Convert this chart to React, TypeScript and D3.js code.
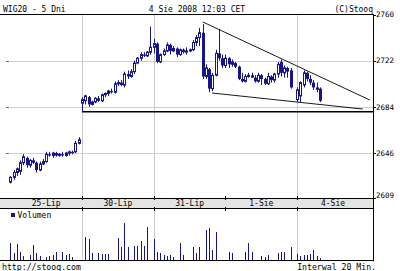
import React from "react";
import * as d3 from "d3";

type C = [number, number, number, number]; // open, high, low, close

const dayLabels = ["25-Lip", "30-Lip", "31-Lip", "1-Sie", "4-Sie"];
const gridDayIdx = [1, 2, 4];
const priceTicks = [2760, 2722, 2684, 2646, 2609];
const slotsPerDay = 22;

const day25: C[] = [
  [2622, 2627, 2621, 2626], [2626, 2632, 2624, 2630], [2630, 2634, 2627, 2633], [2631, 2640, 2628, 2638],
  [2638, 2645, 2636, 2643], [2642, 2643, 2634, 2636], [2636, 2641, 2634, 2640], [2640, 2642, 2637, 2638],
  [2638, 2639, 2630, 2632], [2632, 2639, 2631, 2637], [2637, 2641, 2636, 2639], [2639, 2647, 2638, 2645],
  [2645, 2647, 2643, 2644], [2644, 2647, 2642, 2646], [2646, 2647, 2643, 2644], [2644, 2646, 2643, 2645],
  [2645, 2647, 2643, 2644], [2644, 2647, 2643, 2646], [2646, 2648, 2644, 2647], [2647, 2648, 2645, 2646],
  [2647, 2656, 2646, 2654], [2654, 2659, 2653, 2657],
];
const day30: C[] = [
  [2687, 2692, 2680, 2690], [2689, 2694, 2686, 2693], [2692, 2693, 2684, 2686], [2686, 2689, 2685, 2688],
  [2688, 2692, 2687, 2691], [2691, 2693, 2688, 2689], [2689, 2695, 2688, 2694], [2694, 2696, 2692, 2695],
  [2695, 2698, 2693, 2697], [2697, 2699, 2695, 2696], [2696, 2705, 2695, 2703], [2703, 2706, 2701, 2704],
  [2704, 2706, 2701, 2702], [2702, 2713, 2700, 2711], [2711, 2714, 2707, 2709], [2709, 2715, 2708, 2713],
  [2713, 2722, 2711, 2720], [2720, 2725, 2719, 2724], [2724, 2729, 2722, 2727], [2727, 2729, 2725, 2726],
  [2726, 2730, 2725, 2729], [2729, 2750, 2727, 2733],
];
const day31: C[] = [
  [2733, 2740, 2728, 2736], [2736, 2737, 2720, 2721], [2721, 2728, 2720, 2727], [2727, 2732, 2726, 2730],
  [2730, 2737, 2729, 2735], [2735, 2736, 2727, 2730], [2730, 2734, 2729, 2732], [2732, 2733, 2725, 2727],
  [2727, 2732, 2726, 2731], [2731, 2732, 2728, 2729], [2729, 2733, 2727, 2730], [2730, 2732, 2729, 2731],
  [2731, 2739, 2730, 2737], [2737, 2743, 2734, 2741], [2741, 2749, 2734, 2745], [2745, 2752, 2707, 2709],
  [2709, 2719, 2707, 2716], [2715, 2716, 2696, 2699], [2699, 2712, 2697, 2710], [2710, 2731, 2709, 2728],
  [2728, 2748, 2722, 2724], [2724, 2727, 2716, 2718],
];
const day01: C[] = [
  [2718, 2727, 2716, 2724], [2724, 2725, 2716, 2719], [2719, 2723, 2717, 2721], [2720, 2721, 2716, 2717],
  [2717, 2718, 2706, 2707], [2707, 2712, 2704, 2705], [2705, 2711, 2704, 2709], [2709, 2712, 2708, 2710],
  [2710, 2712, 2708, 2708], [2708, 2710, 2704, 2705], [2705, 2712, 2704, 2710], [2710, 2711, 2702, 2707],
  [2707, 2708, 2702, 2703], [2703, 2712, 2702, 2709], [2709, 2710, 2704, 2706], [2706, 2712, 2704, 2711],
  [2711, 2721, 2708, 2719], [2721, 2723, 2709, 2712], [2712, 2718, 2708, 2716], [2716, 2717, 2708, 2713],
  [2714, 2716, 2699, 2700],
];
const day04: C[] = [
  [2690, 2700, 2688, 2698], [2693, 2705, 2688, 2704], [2702, 2714, 2700, 2712], [2712, 2713, 2705, 2707],
  [2707, 2710, 2702, 2704], [2704, 2706, 2698, 2700], [2700, 2704, 2696, 2698], [2699, 2700, 2688, 2689],
];

const vol25 = [17, 7, 16, 8, 4, 0, 5, 15, 7, 4, 0, 3, 4, 5, 8, 0, 8, 5, 6, 3, 0, 0];
const vol30 = [0, 23, 21, 7, 0, 7, 6, 6, 6, 0, 0, 22, 13, 37, 13, 0, 14, 14, 19, 14, 33, 0];
const vol31 = [21, 8, 7, 5, 4, 5, 3, 0, 17, 5, 0, 0, 13, 7, 13, 0, 30, 32, 10, 28, 0, 0];
const vol01 = [0, 8, 7, 0, 0, 0, 8, 17, 8, 0, 0, 4, 3, 5, 0, 0, 7, 8, 8, 0, 13];
const vol04 = [6, 4, 5, 5, 6, 10, 4, 2];

const candleDays = [day25, day30, day31, day01, day04];
const volumeDays = [vol25, vol30, vol31, vol01, vol04];

// annotation lines in data space (slot position, price)
const trendUpper = [{ pos: 59.1, value: 2753.8 }, { pos: 110.3, value: 2689.6 }];
const trendLower = [{ pos: 61.9, value: 2695.4 }, { pos: 108.1, value: 2682.2 }];
const supportLevel = 2680;
const supportFromPos = 22;

const NAVY = "#16168a";
const FONT = "DejaVu Sans Mono";

export default function App() {
  const W = 400, H = 271;
  const frameRight = 373;
  const x = d3.scaleLinear().domain([0, 5 * slotsPerDay]).range([10.3, 368.9]);
  const y = d3.scaleLinear().domain([2609, 2760]).range([198, 14.5]);
  const v = d3.scaleLinear().domain([0, 40]).range([260, 220]);

  const line = d3
    .line<{ pos: number; value: number }>()
    .x((d) => x(d.pos))
    .y((d) => y(d.value));

  const candles: JSX.Element[] = [];
  candleDays.forEach((day, d) => {
    day.forEach(([o, h, l, c], i) => {
      const px = Math.round(x(d * slotsPerDay + i));
      const top = y(Math.max(o, c));
      const bot = y(Math.min(o, c));
      const bodyH = Math.max(1, bot - top);
      const up = c >= o;
      candles.push(
        <g key={`c${d}-${i}`}>
          <line x1={px + 0.5} x2={px + 0.5} y1={y(h)} y2={y(l)} stroke={NAVY} strokeWidth={1} />
          {up ? (
            <rect x={px - 0.5} y={top} width={2} height={bodyH} fill="#fff" stroke={NAVY} strokeWidth={1} />
          ) : (
            <rect x={px - 1} y={top} width={3} height={bodyH} fill={NAVY} />
          )}
        </g>
      );
    });
  });

  const vols: JSX.Element[] = [];
  volumeDays.forEach((day, d) => {
    day.forEach((val, i) => {
      if (!val) return;
      const px = Math.round(x(d * slotsPerDay + i));
      vols.push(<rect key={`v${d}-${i}`} x={px} y={v(val)} width={1} height={v(0) - v(val)} fill={NAVY} />);
    });
  });

  const gridX = gridDayIdx.map((d) => Math.round(x(d * slotsPerDay)) + 0.5);
  const boundX = d3.range(1, dayLabels.length).map((d) => Math.round(x(d * slotsPerDay)) + 0.5);

  return (
    <svg
      width={W}
      height={H}
      style={{ position: "absolute", left: 0, top: 0, background: "#fff" }}
      fontFamily={FONT}
    >
      <rect x={0} y={0} width={W} height={H} fill="#fff" />
      {/* header */}
      <text x={3} y={12} fontSize={8} fill="#000">WIG20 - 5 Dni</text>
      <text x={197} y={12} fontSize={8} fill="#000" textAnchor="middle">4 Sie 2008 12:03 CET</text>
      <text x={frameRight} y={12} fontSize={8} fill="#000" textAnchor="end">(C)Stooq</text>

      {/* horizontal grid */}
      {priceTicks.slice(1, 4).map((t) => (
        <g key={`hg${t}`}>
          <line x1={10} x2={frameRight} y1={Math.round(y(t)) + 0.5} y2={Math.round(y(t)) + 0.5} stroke="#cfcfcf" />
          <line x1={6} x2={9} y1={Math.round(y(t)) + 0.5} y2={Math.round(y(t)) + 0.5} stroke="#666" />
        </g>
      ))}
      {/* vertical grid (price + volume) */}
      {gridX.map((gx) => (
        <g key={`vg${gx}`}>
          <line x1={gx} x2={gx} y1={14} y2={198} stroke="#c8c8c8" />
          <line x1={gx} x2={gx} y1={208} y2={260} stroke="#c8c8c8" />
        </g>
      ))}

      {/* support & trend lines */}
      <line
        x1={x(supportFromPos)}
        x2={frameRight}
        y1={y(supportLevel)}
        y2={y(supportLevel)}
        stroke="#000"
        strokeWidth={1.5}
      />
      <path d={line(trendUpper) || ""} fill="none" stroke="#000" strokeWidth={0.9} />
      <path d={line(trendLower) || ""} fill="none" stroke="#000" strokeWidth={0.9} />

      {candles}

      {/* frame */}
      <line x1={0} x2={frameRight + 0.5} y1={14.5} y2={14.5} stroke="#000" />
      <line x1={frameRight + 0.5} x2={frameRight + 0.5} y1={14} y2={261.5} stroke="#000" />

      {/* right axis labels */}
      {priceTicks.map((t) => (
        <g key={`yl${t}`}>
          <line x1={frameRight} x2={frameRight + 3} y1={Math.round(y(t)) + 0.5} y2={Math.round(y(t)) + 0.5} stroke="#000" />
          <text x={376} y={Math.min(y(t), 195) + 2.8} fontSize={7.5} fill="#000">
            {t}
          </text>
        </g>
      ))}

      {/* x axis band */}
      <rect x={0} y={198} width={frameRight} height={10} fill="#e4e4e4" />
      <line x1={0} x2={frameRight} y1={198.5} y2={198.5} stroke="#000" />
      <line x1={0} x2={frameRight} y1={208.5} y2={208.5} stroke="#000" />
      {boundX.map((bx) => (
        <g key={`bt${bx}`}>
          <line x1={bx} x2={bx} y1={196} y2={200} stroke="#000" />
          <line x1={bx} x2={bx} y1={207} y2={211} stroke="#000" />
        </g>
      ))}
      {dayLabels.map((lab, d) => (
        <text
          key={lab}
          x={x(d * slotsPerDay + slotsPerDay / 2)}
          y={206}
          fontSize={8}
          fill="#000"
          textAnchor="middle"
        >
          {lab}
        </text>
      ))}

      {/* volume panel */}
      <rect x={11} y={213} width={4} height={4} fill={NAVY} />
      <text x={17.5} y={217.5} fontSize={8} fill="#000">Volumen</text>
      {vols}
      <line x1={0} x2={frameRight + 0.5} y1={260.5} y2={260.5} stroke="#000" />

      {/* footer */}
      <text x={2} y={270} fontSize={8.2} fill="#000">http://stooq.com</text>
      <text x={376} y={270} fontSize={8.2} fill="#000" textAnchor="end">Interwal 20 Min.</text>
    </svg>
  );
}
